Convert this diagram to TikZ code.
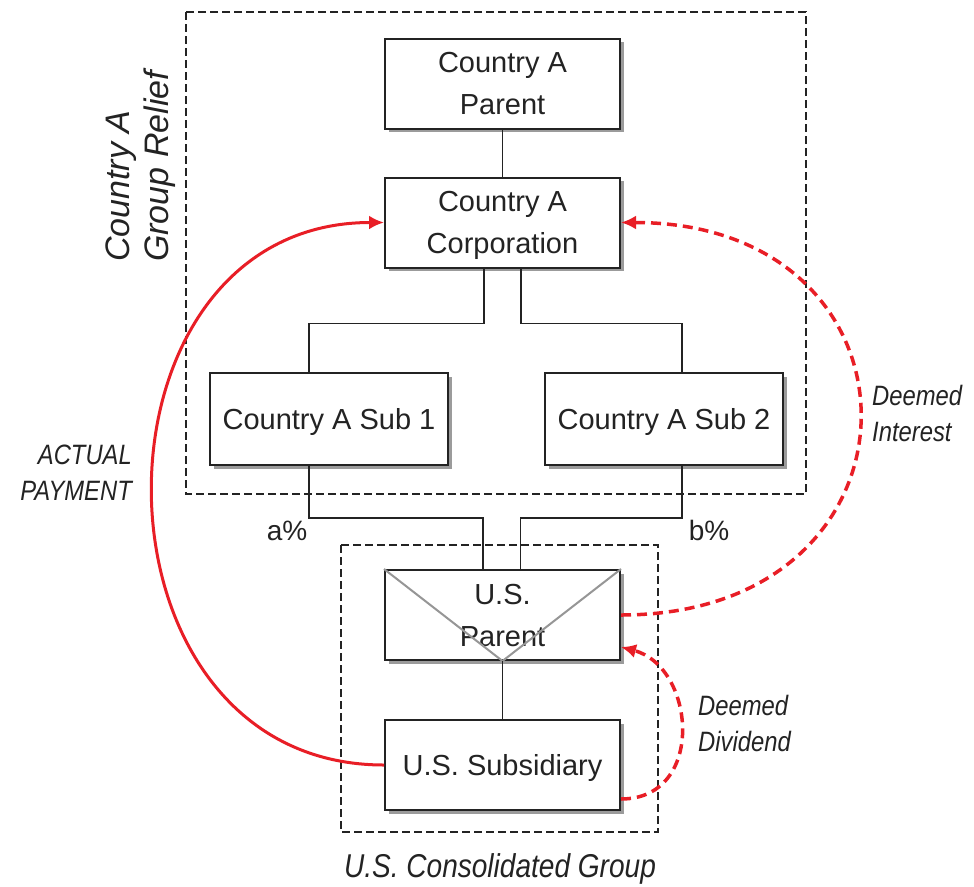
\documentclass[tikz,border=0pt]{standalone}
\usepackage{fontspec}
\setmainfont{Liberation Sans}
\newfontfamily\nit[FakeStretch=0.85]{Liberation Sans}
\usetikzlibrary{arrows.meta,shadows}
\definecolor{rd}{RGB}{232,30,38}
\definecolor{ink}{RGB}{35,35,35}
\definecolor{shd}{RGB}{155,155,155}
\definecolor{env}{RGB}{150,150,150}
\begin{document}
\begin{tikzpicture}[x=1pt,y=-1pt,
  box/.style={draw=ink, line width=2pt, fill=white, minimum width=235pt,
    minimum height=90pt, align=center, inner sep=0pt, text=ink, text depth=0pt,
    font=\fontsize{29}{42}\selectfont,
    drop shadow={shadow xshift=3.5pt, shadow yshift=-3.5pt, fill=shd, opacity=1}},
  subbox/.style={box, minimum width=238pt, minimum height=92pt},
  conn/.style={draw=ink, line width=1.3pt},
  grp/.style={draw=ink, line width=2.5pt, dash pattern=on 8pt off 4pt},
  pay/.style={draw=rd, line width=3pt, -{Latex[length=15pt,width=14pt]}},
  deem/.style={draw=rd, line width=3.5pt, dash pattern=on 10pt off 6pt, -{Latex[length=15pt,width=14pt]}},
  lbl/.style={text=ink, inner sep=0pt, font=\nit\itshape\fontsize{28}{36}\selectfont},
  envl/.style={draw=env, line width=2pt}
]
\useasboundingbox (0,0) rectangle (974,886);

% group frames
\draw[grp] (186,12) rectangle (806,494);
\draw[grp] (341,545) rectangle (658,832);

% boxes
\node[box] (par) at (502.5,83.5) {Country A\\Parent};
\node[box] (corp) at (502.5,222.5) {Country A\\Corporation};
\node[subbox] (s1) at (329,419) {Country A Sub 1};
\node[subbox] (s2) at (664,419) {Country A Sub 2};
\node[box] (usp) at (502.5,615) {U.S.\\Parent};
\node[box] (uss) at (502.5,765) {U.S. Subsidiary};

% envelope lines on U.S. Parent
\draw[envl] (usp.north west) -- (usp.south) -- (usp.north east);

% ownership connectors
\draw[conn] (par) -- (corp);
\draw[conn] ([xshift=-18.5pt]corp.south) -- ++(0,55) -| ([xshift=-20pt]s1.north);
\draw[conn] ([xshift=18.5pt]corp.south) -- ++(0,55) -| ([xshift=18pt]s2.north);
\draw[conn] ([xshift=-20pt]s1.south) -- ++(0,52) -| ([xshift=-19.5pt]usp.north);
\draw[conn] ([xshift=18pt]s2.south) -- ++(0,52) -| ([xshift=18pt]usp.north);
\draw[conn] (usp) -- (uss);

% percentages
\node[text=ink, inner sep=0pt, font=\fontsize{28}{34}\selectfont, anchor=base] (pa) at (287,540) {a\%};
\node[text=ink, inner sep=0pt, font=\fontsize{28}{34}\selectfont, anchor=base] (pb) at (709,540) {b\%};

% payment flows
\draw[pay] (uss.west) .. controls +(-308,0) and +(-308,0) .. (corp.west);
\draw[deem] (usp.east) .. controls +(318,0) and +(318,0) .. (corp.east);
\draw[deem] ([yshift=-34pt]uss.east) .. controls +(85,0) and +(75,20) .. ([yshift=-32pt]usp.east);

% labels
\node[text=ink, inner sep=0pt, font=\itshape\fontsize{34}{39}\selectfont, rotate=90,
  align=left, anchor=north west] (gr) at (106,262) {Country A\\Group Relief};
\node[lbl, align=right, anchor=north east] (act) at (132,445) {ACTUAL\\PAYMENT};
\node[lbl, align=left, anchor=north west] (di) at (872,385) {Deemed\\Interest};
\node[lbl, align=left, anchor=north west] (dd) at (698,695) {Deemed\\Dividend};
\node[lbl, font=\nit\itshape\fontsize{33}{40}\selectfont, anchor=base] (cg) at (500,877) {U.S. Consolidated Group};
\end{tikzpicture}
\end{document}
